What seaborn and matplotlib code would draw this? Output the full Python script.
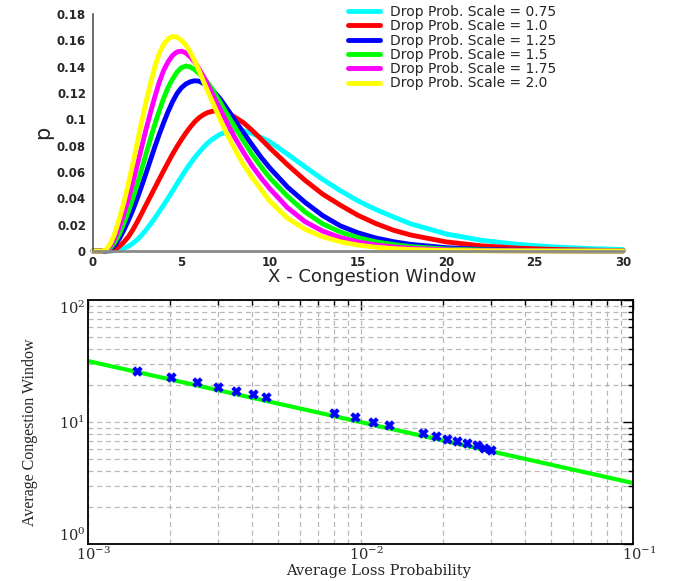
import matplotlib
matplotlib.use("Agg")
import matplotlib.pyplot as plt
import pandas as pd
import seaborn as sns
from matplotlib.ticker import FuncFormatter, LogLocator, NullFormatter, FixedLocator
from matplotlib.transforms import ScaledTranslation
import math

sns.set_style("white")
plt.rcParams["font.family"] = ["DejaVu Sans"]
plt.rcParams["mathtext.fontset"] = "dejavuserif"

# ---- window-size distribution for each drop-probability scale ----
window = [0, 0.5, 0.75, 1, 1.25, 1.5, 1.75, 2, 2.25, 2.5, 2.75, 3, 3.25, 3.5,
          3.75, 4, 4.25, 4.5, 4.75, 5, 5.25, 5.5, 5.75, 6, 6.25, 6.5, 6.75, 7,
          7.25, 7.5, 7.75, 8, 8.5, 9, 9.5, 10, 11, 12, 13, 14, 15, 16, 17, 18,
          20, 22, 24, 26, 28, 30]

scale_labels = ["Drop Prob. Scale = 0.75", "Drop Prob. Scale = 1.0",
                "Drop Prob. Scale = 1.25", "Drop Prob. Scale = 1.5",
                "Drop Prob. Scale = 1.75", "Drop Prob. Scale = 2.0"]

p_075 = [0, 0, 0, 0, 0.0004, 0.0012, 0.0022, 0.0035, 0.0058, 0.0085, 0.012,
         0.016, 0.0203, 0.025, 0.03, 0.035, 0.0402, 0.0455, 0.051, 0.0563,
         0.0615, 0.0663, 0.0708, 0.0749, 0.0787, 0.0821, 0.0848, 0.0871,
         0.0889, 0.0901, 0.0911, 0.0916, 0.0913, 0.0893, 0.0864, 0.083, 0.0737,
         0.0639, 0.0544, 0.0458, 0.0381, 0.0316, 0.0259, 0.0206, 0.0129,
         0.0081, 0.0051, 0.0031, 0.0019, 0.0011]
p_100 = [0, 0, 0, 0.0002, 0.0012, 0.0037, 0.0068, 0.0108, 0.016, 0.022, 0.0284,
         0.035, 0.0415, 0.048, 0.0545, 0.061, 0.0673, 0.0735, 0.0792, 0.0845,
         0.0895, 0.094, 0.098, 0.1012, 0.1035, 0.1052, 0.1061, 0.1065, 0.1062,
         0.1054, 0.1039, 0.1019, 0.0976, 0.0917, 0.0852, 0.0784, 0.0656,
         0.0537, 0.0432, 0.0348, 0.0271, 0.0209, 0.0158, 0.0121, 0.0069,
         0.0039, 0.0022, 0.0012, 0.00065, 0.0003]
p_125 = [0, 0, 0.0001, 0.0015, 0.0046, 0.0096, 0.016, 0.0232, 0.031, 0.0398,
         0.0492, 0.059, 0.0691, 0.0791, 0.0886, 0.0975, 0.1059, 0.1133, 0.1195,
         0.1239, 0.1268, 0.1285, 0.1293, 0.129, 0.1273, 0.1252, 0.1223, 0.1187,
         0.1146, 0.1098, 0.1049, 0.0998, 0.0902, 0.0807, 0.0714, 0.0632,
         0.0487, 0.037, 0.0269, 0.0191, 0.0138, 0.0099, 0.0071, 0.005, 0.0025,
         0.0012, 0.0006, 0.00025, 0.0001, 0.00004]
p_150 = [0, 0, 0.0002, 0.0026, 0.007, 0.0132, 0.0213, 0.030, 0.0399, 0.0506,
         0.0619, 0.0736, 0.0852, 0.0962, 0.1064, 0.1161, 0.1242, 0.1305, 0.1358,
         0.1392, 0.1405, 0.1398, 0.1378, 0.1348, 0.1318, 0.1277, 0.123, 0.1173,
         0.1117, 0.1059, 0.1003, 0.0948, 0.0838, 0.0735, 0.0642, 0.0556,
         0.0417, 0.0297, 0.0206, 0.0144, 0.0101, 0.007, 0.0049, 0.0033, 0.0015,
         0.0007, 0.00027, 0.00012, 0.00004, 0]
p_175 = [0, 0, 0.0004, 0.0042, 0.0102, 0.0186, 0.0285, 0.0395, 0.0518, 0.065,
         0.0786, 0.0923, 0.105, 0.1171, 0.1282, 0.1372, 0.1437, 0.1485, 0.1512,
         0.1518, 0.1505, 0.1475, 0.1436, 0.1383, 0.1326, 0.1263, 0.1194, 0.1126,
         0.1061, 0.0997, 0.0932, 0.0868, 0.0754, 0.0648, 0.0557, 0.0475, 0.033,
         0.0223, 0.0151, 0.0102, 0.0069, 0.0046, 0.0031, 0.002, 0.0009, 0.0003,
         0.00013, 0.00005, 0, 0]
p_200 = [0, 0, 0.001, 0.006, 0.014, 0.025, 0.037, 0.051, 0.066, 0.082, 0.098,
         0.113, 0.127, 0.140, 0.150, 0.157, 0.161, 0.163, 0.1625, 0.160, 0.1565,
         0.151, 0.1445, 0.137, 0.129, 0.121, 0.1135, 0.106, 0.0985, 0.091,
         0.0845, 0.078, 0.066, 0.056, 0.047, 0.038, 0.025, 0.0165, 0.0108,
         0.007, 0.0045, 0.0029, 0.0018, 0.0011, 0.0004, 0.00015, 0.00005, 0, 0, 0]

line_colors = ["#00ffff", "#ff0000", "#0000ff", "#00ff00", "#ff00ff", "#ffff00"]

x_ticks = [0, 5, 10, 15, 20, 25, 30]
p_ticks = [0, 0.02, 0.04, 0.06, 0.08, 0.1, 0.12, 0.14, 0.16, 0.18]

# ---- measured average window versus loss probability ----
loss_prob = [0.00151, 0.00201, 0.00252, 0.00301, 0.00349, 0.00402, 0.0045,
             0.00802, 0.00955, 0.01114, 0.01273, 0.01692, 0.01888, 0.02083,
             0.02266, 0.02466, 0.02669, 0.02847, 0.03012]
avg_window = [25.97, 23.2, 21.3, 19.4, 18.1, 17.0, 16.1, 11.9, 10.9, 10.0,
              9.37, 8.18, 7.73, 7.26, 6.95, 6.74, 6.42, 6.14, 5.91]

# square-root model line
fit_prob = [1e-3, 1e-1]
fit_window = [31.6, 3.16]

loss_ticks = [1e-3, 1e-2, 1e-1]
window_ticks = [1, 10, 100]

fig = plt.figure(figsize=(6.73, 5.81), dpi=100)
W, H = 673.0, 581.0

# ================= top panel: window distributions =================
ax1 = fig.add_axes([93 / W, 1 - 251 / H, 530 / W, 237 / H])
dist = pd.concat(
    [pd.DataFrame({"window": window, "p": vals, "scale": lab})
     for lab, vals in zip(scale_labels, [p_075, p_100, p_125, p_150, p_175, p_200])],
    ignore_index=True)
sns.lineplot(data=dist, x="window", y="p", hue="scale", hue_order=scale_labels,
             palette=dict(zip(scale_labels, line_colors)), linewidth=3.5,
             estimator=None, sort=False, ax=ax1)
for ln in ax1.lines:
    ln.set_clip_on(False)
    ln.set_solid_joinstyle("round")

ax1.set_xlim(0, 30)
ax1.set_ylim(0, 0.18)
ax1.set_xticks(x_ticks)
ax1.set_yticks(p_ticks)
ax1.yaxis.set_major_formatter(FuncFormatter(lambda v, pos: "{:g}".format(round(v, 2))))
ax1.tick_params(direction="in", length=4, width=1, color="#555555", labelsize=8.5)
ax1.tick_params(axis="y", pad=5)
ax1.tick_params(axis="x", pad=3.5)
for lbl in ax1.get_xticklabels() + ax1.get_yticklabels():
    lbl.set_fontweight("bold")
ax1.spines["top"].set_visible(False)
ax1.spines["right"].set_visible(False)
ax1.spines["left"].set_color("#555555")
ax1.spines["left"].set_linewidth(1.2)
ax1.spines["bottom"].set_color("#8a8a8a")
ax1.spines["bottom"].set_linewidth(2)

ax1.set_xlabel("X - Congestion Window", fontsize=13)
ax1.xaxis.set_label_coords(0.526, -0.07)
ax1.set_ylabel("p", fontsize=15)
ax1.yaxis.set_label_coords(-0.075, 0.502)

handles, labels = ax1.get_legend_handles_labels()
ax1.legend(handles, labels, loc="upper left",
           bbox_to_anchor=(348 / W, 1 - 5 / H), bbox_transform=fig.transFigure,
           frameon=False, fontsize=10, handlelength=2.3, handletextpad=0.7,
           labelspacing=0.02, borderpad=0, borderaxespad=0)

# ================= bottom panel: log-log window vs loss =================
ax2 = fig.add_axes([88 / W, 1 - 544 / H, 545 / W, 244 / H])
ax2.set_xscale("log")
ax2.set_yscale("log")
sns.lineplot(x=fit_prob, y=fit_window, color="#00ff00", linewidth=3, ax=ax2)
sns.scatterplot(x=loss_prob, y=avg_window, marker="X", s=45, color="#0000ff",
                edgecolor="#0000ff", linewidth=0.6, ax=ax2, zorder=3)
ax2.set_xlim(1e-3, 1e-1)
ax2.set_ylim(1, 100)

decade_fmt = FuncFormatter(lambda v, pos: r"$10^{%d}$" % round(math.log10(v)))
for axis, majors in ((ax2.xaxis, loss_ticks), (ax2.yaxis, window_ticks)):
    axis.set_major_locator(FixedLocator(majors))
    axis.set_minor_locator(LogLocator(base=10, subs=range(2, 10)))
    axis.set_minor_formatter(NullFormatter())
    axis.set_major_formatter(decade_fmt)

ax2.grid(True, which="both", linestyle=(0, (4, 3)), color="#b8b8b8", linewidth=0.9)
ax2.set_axisbelow(True)
ax2.tick_params(which="both", direction="in", top=True, right=True,
                color="black", width=1)
ax2.tick_params(which="major", length=7, labelsize=10.5)
ax2.tick_params(which="minor", length=3.5)
ax2.tick_params(axis="y", pad=2)
ax2.tick_params(axis="x", pad=1)
for s in ax2.spines.values():
    s.set_visible(True)
    s.set_color("black")
    s.set_linewidth(1.3)

# end labels stay inside the axis span; decade labels sit a little right
yt = ax2.yaxis.get_major_ticks()
yt[0].label1.set_verticalalignment("bottom")
yt[-1].label1.set_verticalalignment("top")
shift = ScaledTranslation(6 / 100, 0, fig.dpi_scale_trans)
for t in ax2.xaxis.get_major_ticks():
    t.label1.set_transform(t.label1.get_transform() + shift)

ax2.set_xlabel("Average Loss Probability", fontfamily="DejaVu Serif", fontsize=10.5)
ax2.xaxis.set_label_coords(0.534, -0.082)
ax2.set_ylabel("Average Congestion Window", fontfamily="Liberation Serif", fontsize=11.5)
ax2.yaxis.set_label_coords(-0.092, 0.46)

fig.savefig("out.png", dpi=100)
